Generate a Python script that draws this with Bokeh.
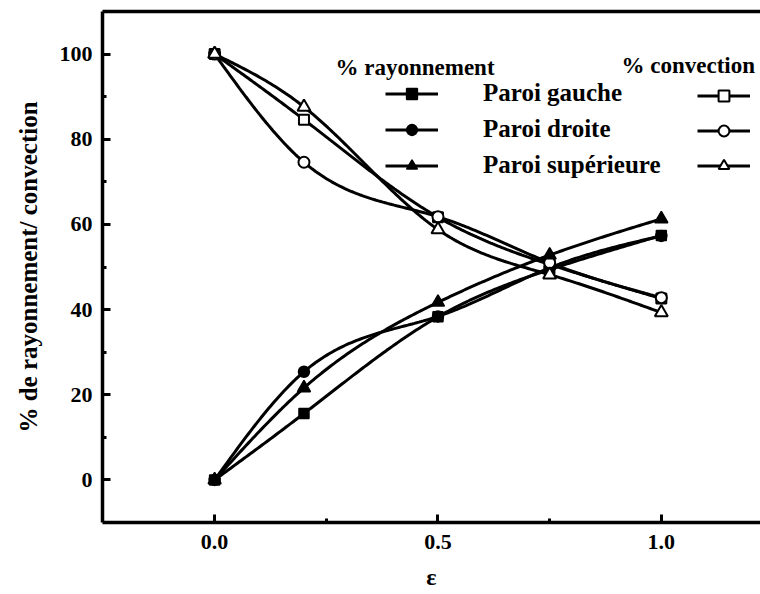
import numpy as np
from bokeh.plotting import figure
from bokeh.models import (Range1d, FixedTicker, LinearAxis, Legend, LegendItem, Label)
from bokeh.embed import file_html
from bokeh.resources import INLINE

# ---- data ----
eps = [0.0, 0.2, 0.5, 0.75, 1.0]
ray_gauche = [0.0, 15.6, 38.3, 49.4, 57.4]
ray_droite = [0.0, 25.4, 38.4, 49.8, 57.3]
ray_sup = [0.0, 21.6, 41.7, 52.8, 61.3]
conv_gauche = [100.0, 84.6, 61.7, 50.6, 42.6]
conv_droite = [100.0, 74.6, 61.8, 51.0, 42.8]
conv_sup = [100.0, 87.6, 58.8, 48.2, 39.3]

labels = ["Paroi gauche", "Paroi droite", "Paroi supérieure"]
x_ticks = [0.0, 0.5, 1.0]
x_minor = [0.25, 0.75]
y_ticks = [0, 20, 40, 60, 80, 100]
y_minor = [10, 30, 50, 70, 90]

FONT = "Liberation Serif"


def smooth(x, y, n=200):
    """Natural cubic spline through the data points, for drawing the curve."""
    x = np.asarray(x, float)
    y = np.asarray(y, float)
    m = len(x)
    h = np.diff(x)
    A = np.zeros((m, m))
    b = np.zeros(m)
    A[0, 0] = 1
    A[-1, -1] = 1
    for i in range(1, m - 1):
        A[i, i - 1] = h[i - 1]
        A[i, i] = 2 * (h[i - 1] + h[i])
        A[i, i + 1] = h[i]
        b[i] = 6 * ((y[i + 1] - y[i]) / h[i] - (y[i] - y[i - 1]) / h[i - 1])
    M = np.linalg.solve(A, b)
    xs = np.linspace(x[0], x[-1], n)
    ys = np.empty_like(xs)
    for k, t in enumerate(xs):
        i = min(np.searchsorted(x, t, side="right") - 1, m - 2)
        dx1 = x[i + 1] - t
        dx0 = t - x[i]
        ys[k] = (M[i] * dx1 ** 3 / (6 * h[i]) + M[i + 1] * dx0 ** 3 / (6 * h[i])
                 + (y[i] / h[i] - M[i] * h[i] / 6) * dx1
                 + (y[i + 1] / h[i] - M[i + 1] * h[i] / 6) * dx0)
    return xs, ys


p = figure(width=760, height=594, output_backend="svg", toolbar_location=None,
           x_range=Range1d(-0.251, 1.222), y_range=Range1d(-10, 110),
           min_border_left=102, min_border_right=0, min_border_top=11,
           min_border_bottom=72)
p.outline_line_color = None
p.grid.visible = False
p.background_fill_color = "white"
p.border_fill_color = "white"

for ax in (p.xaxis[0], p.yaxis[0]):
    ax.axis_line_width = 3.5
    ax.axis_line_color = "black"
    ax.major_tick_in = 8
    ax.major_tick_out = 0
    ax.minor_tick_in = 4
    ax.minor_tick_out = 0
    ax.major_tick_line_width = 3
    ax.minor_tick_line_width = 3
    ax.major_label_text_font = FONT
    ax.major_label_text_font_style = "bold"
    ax.major_label_text_font_size = "22px"
    ax.major_label_text_color = "black"
    ax.axis_label_text_font = FONT
    ax.axis_label_text_font_style = "bold"
    ax.axis_label_text_color = "black"

p.xaxis[0].ticker = FixedTicker(ticks=x_ticks, minor_ticks=x_minor)
p.yaxis[0].ticker = FixedTicker(ticks=y_ticks, minor_ticks=y_minor)
p.xaxis[0].major_label_overrides = {0.0: "0.0", 0.5: "0.5", 1.0: "1.0"}
p.xaxis[0].axis_label = "ε"
p.yaxis[0].axis_label = "% de rayonnement/ convection"
p.xaxis[0].axis_label_text_font_size = "24px"
p.yaxis[0].axis_label_text_font_size = "25px"
p.xaxis[0].major_label_standoff = 12
p.yaxis[0].major_label_standoff = 10
p.xaxis[0].axis_label_standoff = 12
p.yaxis[0].axis_label_standoff = 15

top = LinearAxis(ticker=FixedTicker(ticks=[]), major_tick_in=0, major_tick_out=0,
                 minor_tick_in=0, minor_tick_out=0, axis_line_width=3.5,
                 major_label_text_font_size="0px", major_label_standoff=0,
                 axis_label_standoff=0)
p.add_layout(top, "above")

ray = [ray_gauche, ray_droite, ray_sup]
conv = [conv_gauche, conv_droite, conv_sup]
markers = ["square", "circle", "triangle"]
sizes = [10, 11, 13]

ray_items, conv_items = [], []
for i in range(3):
    xs, ys = smooth(eps, ray[i])
    l1 = p.line(xs, ys, line_color="black", line_width=3)
    m1 = p.scatter(eps, ray[i], marker=markers[i], size=sizes[i],
                   fill_color="black", line_color="black", line_width=1.5)
    xs, ys = smooth(eps, conv[i])
    l2 = p.line(xs, ys, line_color="black", line_width=3)
    m2 = p.scatter(eps, conv[i], marker=markers[i], size=sizes[i],
                   fill_color="white", line_color="black", line_width=2)
    ray_items.append(LegendItem(label=labels[i], renderers=[l1, m1]))
    conv_items.append(LegendItem(label=" ", renderers=[l2, m2]))


def make_legend(items, loc, standoff, fs):
    lg = Legend(items=items, location=loc, orientation="vertical",
                glyph_width=53, glyph_height=27, label_height=27, spacing=8,
                padding=0, margin=0, label_standoff=standoff,
                border_line_color=None, background_fill_alpha=0,
                label_text_font=FONT, label_text_font_style="bold",
                label_text_font_size=fs, label_text_color="black")
    return lg


p.add_layout(make_legend(ray_items, (283, 343), 45, "25px"), "center")
p.add_layout(make_legend(conv_items, (595, 343), 0, "25px"), "center")

p.add_layout(Label(x=233, y=455, x_units="screen", y_units="screen",
                   text="% rayonnement", text_font=FONT, text_font_style="bold",
                   text_font_size="23px", text_baseline="middle", text_color="black"))
p.add_layout(Label(x=519, y=457, x_units="screen", y_units="screen",
                   text="% convection", text_font=FONT, text_font_style="bold",
                   text_font_size="23px", text_baseline="middle", text_color="black"))

open("out.html", "w").write(file_html(p, INLINE))
